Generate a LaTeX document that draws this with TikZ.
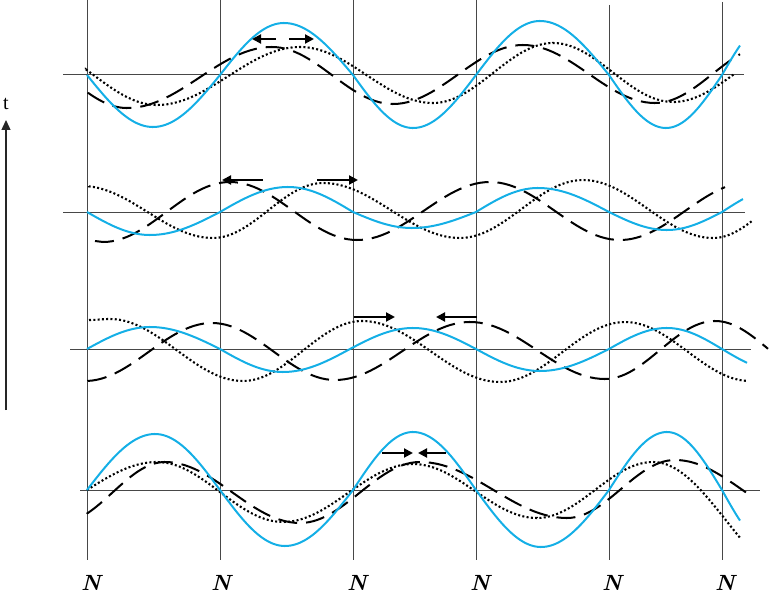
\documentclass[tikz,border=0pt]{standalone}
\usepackage{fontspec}
\newfontfamily\tfont{Liberation Serif}
\usetikzlibrary{arrows.meta}
\definecolor{wblue}{RGB}{20,175,230}
\newcommand\wUp[4]{-- plot[domain=#1:#3] ({\x},{#2+(#4-#2)*sin(90/(#3-#1)*(\x-#1))})}
\newcommand\wDn[4]{-- plot[domain=#1:#3] ({\x},{#4+(#2-#4)*cos(90/(#3-#1)*(\x-#1))})}
\newcommand\wHw[4]{-- plot[domain=#1:#3] ({\x},{(#2+#4)/2+(#2-#4)/2*cos(180/(#3-#1)*(\x-#1))})}
\newcommand\wHwd[6]{-- plot[domain=#1:#2] ({\x},{(#4+#6)/2+(#4-#6)/2*cos(180/(#5-#3)*(\x-#3))})}
\newcommand\wUpd[6]{-- plot[domain=#1:#2] ({\x},{#4+(#6-#4)*sin(90/(#5-#3)*(\x-#3))})}
\tikzset{
  gridline/.style={draw=black!72,line width=1pt},
  bluewave/.style={draw=wblue,line width=2pt},
  dashwave/.style={draw=black,line width=2pt,dash pattern=on 19pt off 9pt},
  dotwave/.style={draw=black,line width=2.1pt,dash pattern=on 2pt off 2.3pt},
  movearrow/.style={draw=black,line width=2pt,-{Triangle[length=9pt,width=9pt]}},
  nlabel/.style={inner sep=0pt,font=\fontsize{22}{24}\selectfont\bfseries\itshape},
}
\begin{document}
\begin{tikzpicture}[x=1pt,y=-1pt,samples=28]
\useasboundingbox (0,0) rectangle (771,599);
% grid
\foreach \gx/\gt in {87/0,220/0,353/0,476/0,609/5,722/2}{
  \draw[gridline] (\gx,\gt) -- (\gx,560);
}
\draw[gridline] (63,75) -- (744,75);
\draw[gridline] (63,212) -- (745,212);
\draw[gridline] (70,349) -- (751,349);
\draw[gridline] (80,490) -- (760,490);

% ---------- row 1 ----------
\draw[dotwave] (86,69.5) \wHwd{86}{157}{30}{45}{157}{105} \wHw{157}{105}{300}{47} \wHw{300}{47}{433}{103} \wHw{433}{103}{553}{43} \wHw{553}{43}{673}{102} \wHwd{673}{735}{673}{102}{797}{45};
\draw[dashwave] (88,92.7) \wHwd{88}{127}{10}{47}{127}{108} \wHw{127}{108}{272}{47} \wHw{272}{47}{393}{104} \wHw{393}{104}{523}{45} \wHw{523}{45}{655}{103} \wHwd{655}{740}{655}{103}{770}{45};
\draw[bluewave] (87,75) \wUp{87}{75}{153}{127} \wDn{153}{127}{220}{75} \wUp{220}{75}{284}{23} \wDn{284}{23}{353}{75} \wUp{353}{75}{413}{128} \wDn{413}{128}{476}{75} \wUp{476}{75}{540}{21} \wDn{540}{21}{609}{75} \wUp{609}{75}{666}{128} \wDn{666}{128}{722}{75} \wUpd{722}{740}{722}{75}{770}{22};

% ---------- row 2 ----------
\draw[dotwave] (89,186) \wHwd{89}{213}{82}{186}{213}{238} \wHw{213}{238}{323}{183} \wHw{323}{183}{460}{238} \wHw{460}{238}{583}{180} \wHw{583}{180}{713}{238} \wHwd{713}{752}{713}{238}{820}{180};
\draw[dashwave] (95,241) -- (103,242) \wHw{103}{242}{230}{182} \wHw{230}{182}{357}{240} \wHw{357}{240}{490}{182} \wHw{490}{182}{620}{240} \wHwd{620}{725}{620}{240}{750}{182};
\draw[bluewave] (87,212) \wUp{87}{212}{150}{235} \wDn{150}{235}{220}{212} \wUp{220}{212}{288}{187} \wDn{288}{187}{353}{212} \wUp{353}{212}{412}{228} \wDn{412}{228}{476}{212} \wUp{476}{212}{538}{188} \wDn{538}{188}{609}{212} \wUp{609}{212}{667}{230} \wDn{667}{230}{722}{212} \wUpd{722}{743}{722}{212}{780}{188};

% ---------- row 3 ----------
\draw[dotwave] (89,320) \wHw{89}{320}{110}{319} \wHw{110}{319}{243}{381} \wHw{243}{381}{362}{321} \wHw{362}{321}{500}{382} \wHw{500}{382}{625}{322} \wHwd{625}{748}{625}{322}{750}{381};
\draw[dashwave] (88,381) \wHwd{88}{212}{85}{381}{212}{323} \wHw{212}{323}{335}{380} \wHw{335}{380}{470}{322} \wHw{470}{322}{605}{379} \wHw{605}{379}{715}{321} \wHwd{715}{768}{715}{321}{825}{380};
\draw[bluewave] (87,349) \wUp{87}{349}{150}{327} \wDn{150}{327}{220}{349} \wUp{220}{349}{283}{372} \wDn{283}{372}{350}{349} \wUp{350}{349}{413}{328} \wDn{413}{328}{476}{349} \wUp{476}{349}{540}{371} \wDn{540}{371}{609}{349} \wUp{609}{349}{667}{328} \wDn{667}{328}{722}{349} \wUpd{722}{747}{722}{349}{780}{371};

% ---------- row 4 ----------
\draw[dotwave] (87,490) \wUp{87}{490}{157}{462} \wHw{157}{462}{283}{522} \wHw{283}{522}{413}{464} \wHw{413}{464}{537}{518} \wHw{537}{518}{653}{462} \wHwd{653}{740}{653}{462}{800}{580};
\draw[dashwave] (87,513.6) \wHwd{87}{165}{60}{523}{165}{462} \wHw{165}{462}{300}{523} \wHw{300}{523}{420}{462} \wHw{420}{462}{567}{518} \wHw{567}{518}{675}{460} \wHwd{675}{748}{675}{460}{810}{520};
\draw[bluewave] (87,490) \wUp{87}{490}{155}{434} \wDn{155}{434}{220}{490} \wUp{220}{490}{285}{546} \wDn{285}{546}{353}{490} \wUp{353}{490}{413}{432} \wDn{413}{432}{476}{490} \wUp{476}{490}{541}{547} \wDn{541}{547}{609}{490} \wUp{609}{490}{667}{432} \wDn{667}{432}{722}{490} \wUpd{722}{740}{722}{490}{772}{547};

% ---------- motion arrows ----------
\coordinate (r1a) at (276,39);  \coordinate (r1b) at (252,39);
\coordinate (r1c) at (289,39);  \coordinate (r1d) at (314,39);
\coordinate (r2a) at (263,180); \coordinate (r2b) at (222,180);
\coordinate (r2c) at (317,180); \coordinate (r2d) at (358,180);
\coordinate (r3a) at (354,317); \coordinate (r3b) at (395,317);
\coordinate (r3c) at (477,317); \coordinate (r3d) at (436,317);
\coordinate (r4a) at (382,453); \coordinate (r4b) at (413,453);
\coordinate (r4c) at (446,453); \coordinate (r4d) at (418,453);
\draw[movearrow] (r1a) -- (r1b);
\draw[movearrow] (r1c) -- (r1d);
\draw[movearrow] (r2a) -- (r2b);
\draw[movearrow] (r2c) -- (r2d);
\draw[movearrow] (r3a) -- (r3b);
\draw[movearrow] (r3c) -- (r3d);
\draw[movearrow] (r4a) -- (r4b);
\draw[movearrow] (r4c) -- (r4d);

% ---------- time axis ----------
\coordinate (tbot) at (6,410);
\node[inner sep=0pt,font=\tfont\fontsize{20}{22}\selectfont] (tlab) at (6,104) {t};
\coordinate (ttop) at (6,120);
\draw[draw=black!85,line width=1.3pt,-{Triangle[length=10pt,width=9pt]}] (tbot) -- (ttop);

% ---------- node labels ----------
\node[nlabel] (n1) at (91,583) {N};
\node[nlabel] (n2) at (221,583) {N};
\node[nlabel] (n3) at (357,583) {N};
\node[nlabel] (n4) at (480,583) {N};
\node[nlabel] (n5) at (612,583) {N};
\node[nlabel] (n6) at (725,583) {N};
\end{tikzpicture}
\end{document}
